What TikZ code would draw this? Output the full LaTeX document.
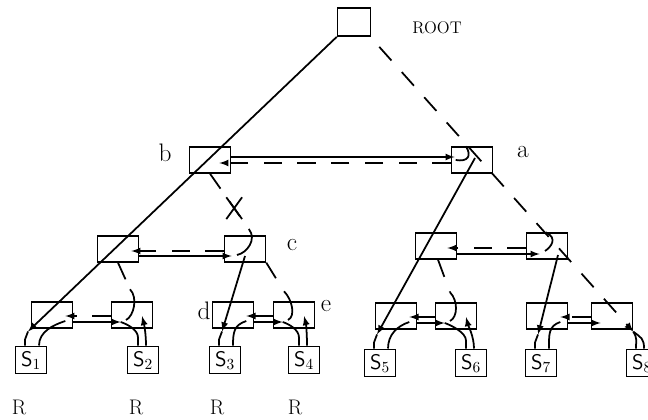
\documentclass[tikz,border=0pt]{standalone}
\usepackage{amsmath}
\usetikzlibrary{arrows}
\usetikzlibrary{shapes}
\usetikzlibrary{calc}

\begin{document}
\begin{tikzpicture}[x = 0.025cm, y = -0.025cm, line width = 1.25pt]
	\tikzstyle{boxStyle} = [shape = rectangle, draw, minimum width = 1.02cm, minimum height = 0.64cm, inner sep = 0pt]
	\tikzstyle{leafStyle} = [shape = rectangle, draw, minimum width = 0.78cm, minimum height = 0.68cm, inner sep = 0pt, font = \fontsize{15}{17}\sffamily]
	\tikzstyle{nameStyle} = [font = \fontsize{18}{20}\selectfont]
	\tikzstyle{resultStyle} = [font = \fontsize{15}{17}\selectfont]
	\tikzstyle{leftLink} = [-latex]
	\tikzstyle{rightLink} = [dash pattern = on 13pt off 11pt]
	\tikzstyle{hookLink} = []
	\useasboundingbox (0,0) rectangle (648,419);
	% the tree
	\node[boxStyle, minimum width = 0.82cm, minimum height = 0.7cm] (root) at (354,22) {};
	\node[boxStyle] (b) at (210,160) {};
	\node[boxStyle] (a) at (472,160) {};
	\node[boxStyle] (n1) at (118,249) {};
	\node[boxStyle] (c) at (245,249) {};
	\node[boxStyle] (n2) at (436,246) {};
	\node[boxStyle] (n3) at (547,246) {};
	\node[boxStyle] (m1) at (52,315) {};
	\node[boxStyle] (m2) at (132,315) {};
	\node[boxStyle] (d) at (233,315) {};
	\node[boxStyle] (e) at (294,315) {};
	\node[boxStyle] (m5) at (396,316) {};
	\node[boxStyle] (m6) at (456,316) {};
	\node[boxStyle] (m7) at (547,316) {};
	\node[boxStyle] (m8) at (612,316) {};
	% sites
	\node[leafStyle] (s1) at (31,360) {S$_1$};
	\node[leafStyle] (s2) at (143,360) {S$_2$};
	\node[leafStyle] (s3) at (225,360) {S$_3$};
	\node[leafStyle] (s4) at (304,360) {S$_4$};
	\node[leafStyle] (s5) at (380,363) {S$_5$};
	\node[leafStyle] (s6) at (471,363) {S$_6$};
	\node[leafStyle] (s7) at (541,363) {S$_7$};
	\node[leafStyle] (s8) at (642,363) {S$_8$};
	% labels
	\node[font = \fontsize{12}{14}\selectfont] (rootName) at (437,28) {ROOT};
	\node[nameStyle] (bName) at (165,153) {b};
	\node[nameStyle] (aName) at (523,152) {a};
	\node[nameStyle] (cName) at (292,245) {c};
	\node[nameStyle] (dName) at (204,311) {d};
	\node[nameStyle] (eName) at (326,306) {e};
	\node[resultStyle] (r1) at (19,407) {R};
	\node[resultStyle] (r2) at (136,407) {R};
	\node[resultStyle] (r3) at (217,407) {R};
	\node[resultStyle] (r4) at (295,407) {R};
	% left pointers
	\coordinate (t1) at ($(s1.north) + (-3,-14)$);
	\coordinate (t3) at ($(s3.north) + (-3,-14)$);
	\coordinate (t5) at ($(s5.north) + (-3,-14)$);
	\coordinate (t7) at ($(s7.north) + (-3,-14)$);
	\draw[leftLink] (root.south west) -- (t1);
	\draw[leftLink] ($(a.center) + (3,-2)$) -- (t5);
	\draw[leftLink] ($(c.center) + (0,7)$) -- (t3);
	\draw[leftLink] ($(n3.center) + (11,9)$) -- (t7);
	% right pointers
	\coordinate (r0) at ($(root.south east) + (8,10)$);
	\coordinate (t8) at ($(m8.south east) + (0,2)$);
	\draw[rightLink, -latex] (r0) -- (t8);
	\draw[hookLink] ($(a.north) + (-6,0)$) .. controls +(6,10) and +(12,2) .. ($(a.west) + (5,0)$);
	\draw[hookLink] ($(n3.north) + (-1,0)$) .. controls +(12,6) and +(6,-4) .. ($(n3.center) + (-2,5)$);
	\coordinate (h3) at ($(c.north) + (4,-6)$);
	\coordinate (h2) at ($(m2.north) + (-2,-12)$);
	\coordinate (h4) at ($(e.north) + (-10,-10)$);
	\coordinate (h6) at ($(m6.north) + (-6,-10)$);
	\draw[rightLink] (b.south) -- (h3);
	\draw[hookLink] (h3) .. controls +(8,10) and +(10,-2) .. ($(c.center) + (-8,6)$);
	\node[cross out, draw, minimum width = 0.35cm, minimum height = 0.5cm, inner sep = 0pt] (cut) at ($(b.south)!0.62!(h3)$) {};
	\draw[rightLink] (n1.south) -- (h2);
	\draw[hookLink] (h2) .. controls +(8,8) and +(8,-4) .. ($(m2.center) + (-6,5)$);
	\draw[rightLink] (c.south east) -- (h4);
	\draw[hookLink] (h4) .. controls +(8,8) and +(8,-4) .. ($(e.center) + (-6,5)$);
	\draw[rightLink] ($(n2.south) + (2,0)$) -- (h6);
	\draw[hookLink] (h6) .. controls +(8,8) and +(8,-4) .. ($(m6.center) + (-6,5)$);
	% sibling pointers
	\draw[leftLink] ($(b.east) + (0,-3)$) -- ($(a.west) + (4,-3)$);
	\draw[rightLink, -latex] ($(a.west) + (0,3)$) -- ($(b.east) + (-12,3)$);
	\draw[rightLink, -latex] ($(c.west) + (0,2)$) -- ($(n1.east) + (-8,2)$);
	\draw[leftLink] ($(n1.east) + (0,7)$) -- ($(c.west) + (8,7)$);
	\draw[rightLink, -latex] ($(n3.west) + (0,2)$) -- ($(n2.east) + (-10,2)$);
	\draw[leftLink] ($(n2.east) + (0,8)$) -- ($(n3.west) + (14,8)$);
	\draw[rightLink, -latex] ($(m2.west) + (0,1)$) -- ($(m1.east) + (-8,1)$);
	\draw[leftLink] ($(m1.east) + (0,7)$) -- ($(m2.west) + (10,7)$);
	\draw[rightLink, -latex] ($(e.west) + (0,1)$) -- ($(d.east) + (-8,1)$);
	\draw[leftLink] ($(d.east) + (0,7)$) -- ($(e.west) + (10,7)$);
	\draw[rightLink, -latex] ($(m6.west) + (0,1)$) -- ($(m5.east) + (-8,1)$);
	\draw[leftLink] ($(m5.east) + (0,7)$) -- ($(m6.west) + (10,7)$);
	\draw[rightLink, -latex] ($(m8.west) + (0,1)$) -- ($(m7.east) + (-8,1)$);
	\draw[leftLink] ($(m7.east) + (0,7)$) -- ($(m8.west) + (10,7)$);
	% sites up to their nodes
	\draw ($(s1.north) + (-6,0)$) -- ++(0,-6) -- (t1);
	\draw ($(s1.north) + (8,0)$) .. controls +(0,-14) and +(-12,4) .. ($(m1.east) + (-8,6)$);
	\draw ($(s3.north) + (-6,0)$) -- ++(0,-6) -- (t3);
	\draw ($(s3.north) + (8,0)$) .. controls +(0,-14) and +(-12,4) .. ($(d.east) + (-8,6)$);
	\draw ($(s5.north) + (-6,0)$) -- ++(0,-6) -- (t5);
	\draw ($(s5.north) + (8,0)$) .. controls +(0,-14) and +(-12,4) .. ($(m5.east) + (-8,6)$);
	\draw ($(s7.north) + (-6,0)$) -- ++(0,-6) -- (t7);
	\draw ($(s7.north) + (8,0)$) .. controls +(0,-14) and +(-12,4) .. ($(m7.east) + (-8,6)$);
	\draw ($(s2.north) + (-5,0)$) -- ++(0,-8) .. controls +(0,-8) and +(6,2) .. ($(m2.west) + (10,7)$);
	\draw[-latex] ($(s2.north) + (3,0)$) .. controls +(0,-12) and +(2,8) .. ($(m2.center) + (10,1)$);
	\draw ($(s4.north) + (-5,0)$) -- ++(0,-8) .. controls +(0,-8) and +(6,2) .. ($(e.west) + (10,7)$);
	\draw[-latex] ($(s4.north) + (3,0)$) .. controls +(0,-12) and +(2,8) .. ($(e.center) + (10,1)$);
	\draw ($(s6.north) + (-5,0)$) -- ++(0,-8) .. controls +(0,-8) and +(6,2) .. ($(m6.west) + (10,7)$);
	\draw[-latex] ($(s6.north) + (3,0)$) .. controls +(0,-12) and +(2,8) .. ($(m6.center) + (10,1)$);
	\draw ($(s8.north) + (-6,0)$) .. controls +(0,-8) and +(4,6) .. (t8);
	\draw ($(s8.north) + (2,0)$) .. controls +(0,-10) and +(8,6) .. (t8);
\end{tikzpicture}
\end{document}
